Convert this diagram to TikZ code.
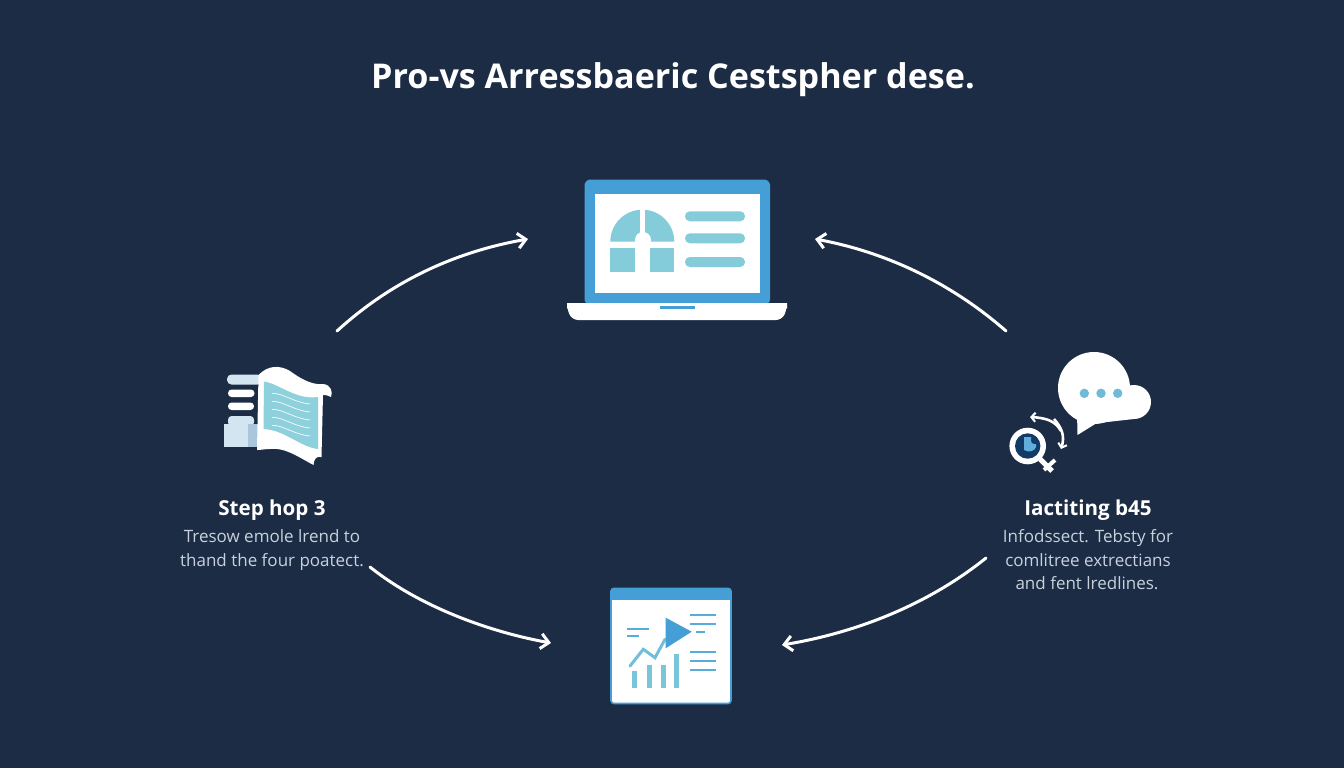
\documentclass[tikz,border=0pt]{standalone}
\usepackage{fontspec}
\setmainfont{Open Sans}
\usetikzlibrary{arrows.meta}
\definecolor{bgc}{HTML}{1C2C45}
\definecolor{sky}{HTML}{459FD6}
\definecolor{teal}{HTML}{85CCDA}
\definecolor{pale}{HTML}{D3E5F1}
\definecolor{palem}{HTML}{A9C6DC}
\definecolor{txt}{HTML}{C9D2DC}
\definecolor{navy}{HTML}{123A66}
\definecolor{dots}{HTML}{6FBAD8}
\tikzset{
  flow/.style={draw=white,line width=3pt,line cap=round,-{Straight Barb[length=8pt,width=15pt,line width=3pt]}},
  titletext/.style={text=white,font=\fontsize{34.1}{40}\selectfont\bfseries,inner sep=0pt,anchor=base},
  headtext/.style={text=white,font=\fontsize{20.6}{22}\selectfont\bfseries,inner sep=0pt,anchor=base},
  bodytext/.style={text=txt,font=\fontsize{17}{20}\selectfont,inner sep=0pt,anchor=base},
  chartline/.style={draw=sky!70!teal,line width=2.1pt},
  chartbar/.style={fill=teal!85!sky},
  smallflow/.style={draw=white,line width=2.6pt,-{Straight Barb[length=4pt,width=9pt,line width=2pt]}},
}
\begin{document}
\begin{tikzpicture}[x=1pt,y=-1pt]
\fill[bgc] (0,0) rectangle (1344,768);
\useasboundingbox (0,0) rectangle (1344,768);
% title
\node[titletext] (title) at (673,88.5) {Pro-vs Arressbaeric Cestspher dese.};
% laptop
\fill[sky,rounded corners=6pt] (584.5,305) -- (584.5,179.5) -- (770,179.5) -- (770,305) -- cycle;
\fill[white] (594.5,194) rectangle (760,293);
\fill[white,rounded corners=6pt] (567,303) -- (787,303) -- (787,309) -- (782,320) -- (572,320) -- (567,309) -- cycle;
\fill[white] (567,303) rectangle (787,308);
\fill[sky] (660,306) rectangle (695,309);
\fill[teal] (610.3,241.7) arc[start angle=180,end angle=270,radius=32] -- (642.3,241.7) -- cycle;
\fill[teal] (674.3,241.7) arc[start angle=0,end angle=-90,radius=32] -- (642.3,241.7) -- cycle;
\fill[white] (640,205) rectangle (645,245);
\fill[white] (643,240) circle[radius=8];
\fill[teal] (610.3,247.5) rectangle (635,271.7);
\fill[teal] (649.5,247.5) rectangle (674.3,271.7);
\foreach \y in {216.3,238.3,262}{\fill[teal,rounded corners=4.8pt] (685,\y-5) rectangle (745,\y+5);}
\coordinate (laptopL) at (528,239);
\coordinate (laptopR) at (815,239);
% document icon
\fill[pale,rounded corners=4.5pt] (227,374.5) rectangle (262,384.5);
\fill[white,rounded corners=3.6pt] (228,389.5) rectangle (254.5,397);
\fill[white,rounded corners=3.6pt] (228,402.5) rectangle (254,410);
\fill[pale,rounded corners=3.6pt] (228,416) rectangle (254,426);
\fill[pale] (224,423.5) rectangle (252,447);
\fill[palem] (248,423.5) rectangle (258,447);
\fill[white] (258.5,375)
  .. controls (268,365) and (280,365) .. (290,371)
  .. controls (305,382) and (315,385) .. (323.5,384)
  .. controls (331,385) and (333,392) .. (331,397)
  .. controls (329,396) and (327,395) .. (323,395)
  -- (321.5,457)
  .. controls (316,456) and (314,459) .. (313.5,465)
  .. controls (300,458) and (285,447) .. (270,449)
  .. controls (265,449) and (261,450) .. (257,450) -- cycle;
\fill[teal!92!white] (264,381.5)
  .. controls (280,384) and (295,400) .. (318,397)
  -- (318,449)
  .. controls (300,447) and (285,430) .. (263.5,429) -- cycle;
\foreach \d in {0,1,2,3,4}{
  \draw[white!85!teal,line width=0.8pt] (272,393.5+\d*8) .. controls (282,392.5+\d*8) and (295,403+\d*8) .. (310,404+\d*8);
}
% cloud icon
\fill[white] (1094,388) circle[radius=36];
\fill[white] (1134,402) circle[radius=17];
\fill[white] (1094,395) -- (1134,385) -- (1134,419) -- (1094,423.5) -- cycle;
\fill[white] (1077,412) -- (1077.5,435) -- (1096,423.5) -- (1096,410) -- cycle;
\foreach \x in {1084.3,1101,1117.7}{\fill[dots] (\x,393.3) circle[radius=4.7];}
\fill[white] (1027.7,446) circle[radius=18.3];
\fill[navy] (1027.7,446) circle[radius=12.7];
\fill[sky!85!white] (1024,437) -- (1031,437) -- (1031,441) arc[start angle=180,end angle=90,radius=3] -- (1036,444) -- (1036,447) .. controls (1035,451) and (1029,453) .. (1024,450) -- cycle;
\draw[white,line width=5pt] (1040,459) -- (1052,471);
\draw[white,line width=4pt] (1044,470) -- (1055,460);
\draw[smallflow] (1061,431) .. controls (1056,422) and (1048,418) .. (1030,417);
\draw[smallflow] (1054,419) .. controls (1062,428) and (1065,436) .. (1061,449);
% chart icon
\fill[white,draw=sky,line width=1.6pt,rounded corners=3pt] (611,588.5) rectangle (731,703.5);
\fill[sky,rounded corners=3pt] (610.5,588) rectangle (731.5,599.5);
\fill[sky] (610.5,594) rectangle (731.5,599.5);
\foreach \a/\t in {632.3/670.7,646.7/665,660.7/665,674.3/654}{\fill[chartbar] (\a,\t) rectangle (\a+5,688);}
\draw[chartline] (626.7,629) -- (649,629);
\draw[chartline] (626.7,635.7) -- (639.3,635.7);
\draw[chartline] (690,615) -- (715.7,615);
\draw[chartline] (690,624) -- (715.7,624);
\draw[chartline] (696,632.3) -- (705,632.3);
\draw[chartline] (690,652.3) -- (715.7,652.3);
\draw[chartline] (690,661) -- (715.7,661);
\draw[chartline] (690,670) -- (715.7,670);
\draw[teal!70!sky,line width=3pt,line cap=round] (630,666) -- (643.3,649.3) -- (655,657.7) -- (665,639.3);
\fill[sky] (665.7,617.7) -- (691.7,631.7) -- (665.7,648.3) -- cycle;
% labels
\node[headtext] (lefthead) at (272,515.5) {Step hop 3};
\node[bodytext] (leftone) at (272,542) {Tresow emole lrend to};
\node[bodytext] (lefttwo) at (272,566) {thand the four poatect.};
\node[headtext] (righthead) at (1088,515.5) {Iactiting b45};
\node[bodytext] (rightone) at (1088,542) {Infodssect. Tebsty for};
\node[bodytext] (righttwo) at (1088,566) {comlitree extrectians};
\node[bodytext] (rightthree) at (1087,589) {and fent lredlines.};
% connectors
\coordinate (leftup) at (337,331);
\coordinate (rightup) at (1006,331);
\coordinate (leftdown) at (370,567);
\coordinate (rightdown) at (986,558);
\coordinate (chartL) at (551,643);
\coordinate (chartR) at (782,645);
\draw[flow] (leftup) .. controls (395,278) and (460,251) .. (laptopL);
\draw[flow] (rightup) .. controls (950,282) and (885,252) .. (laptopR);
\draw[flow] (leftdown) .. controls (420,607) and (490,632) .. (chartL);
\draw[flow] (rightdown) .. controls (930,603) and (860,632) .. (chartR);
\end{tikzpicture}
\end{document}
